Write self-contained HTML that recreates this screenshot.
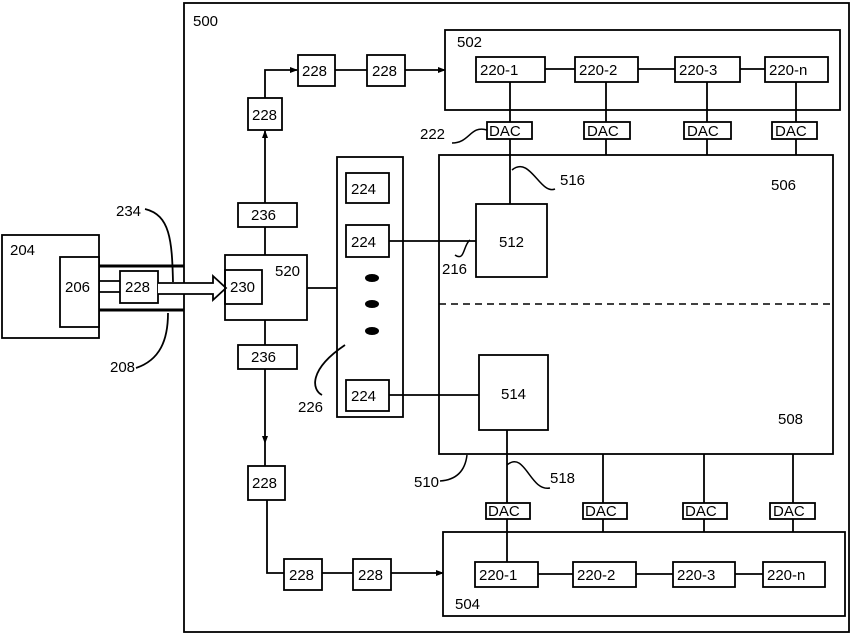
<!DOCTYPE html>
<html><head><meta charset="utf-8"><style>
html,body{margin:0;padding:0;background:#fff}
svg{display:block}
text{font-family:"Liberation Sans",Arial,sans-serif;font-size:15px;fill:#000}
</style></head><body>
<svg width="861" height="635" viewBox="0 0 861 635" xmlns="http://www.w3.org/2000/svg">
<defs><marker id="a" markerWidth="8" markerHeight="8" refX="7" refY="4" orient="auto" markerUnits="userSpaceOnUse"><path d="M0,1 L8,4 L0,7z" fill="#000"/></marker></defs>
<g fill="none" stroke="#000" stroke-width="1.8">
<rect x="184" y="3" width="665" height="629"/>
<rect x="2" y="235" width="97" height="103"/>
<rect x="60" y="257" width="39" height="70" fill="#fff"/>
<line x1="99" y1="266" x2="184" y2="266" stroke-width="3"/>
<line x1="99" y1="310" x2="184" y2="310" stroke-width="3"/>
<line x1="99" y1="281" x2="120" y2="281"/>
<line x1="99" y1="292" x2="120" y2="292"/>
<rect x="120" y="271" width="38" height="32"/>
<path d="M158,283 H213 V276 L226,288 L213,300 V294 H158" fill="#fff"/>
<path d="M145,209 C170,215 172,240 173,282"/>
<path d="M136,368 C160,360 168,340 168,313"/>
<rect x="225" y="255" width="82" height="65"/>
<rect x="225" y="270" width="37" height="34"/>
<line x1="307" y1="288" x2="337" y2="288"/>
<line x1="265" y1="255" x2="265" y2="227"/>
<rect x="238" y="203" width="59" height="24"/>
<line x1="265" y1="203" x2="265" y2="131" marker-end="url(#a)"/>
<rect x="248" y="98" width="34" height="32"/>
<path d="M265,98 V70 H297" marker-end="url(#a)"/>
<rect x="298" y="55" width="37" height="31"/>
<line x1="335" y1="70" x2="367" y2="70"/>
<rect x="367" y="55" width="38" height="31"/>
<line x1="405" y1="70" x2="445" y2="70" marker-end="url(#a)"/>
<line x1="265" y1="320" x2="265" y2="345"/>
<rect x="238" y="345" width="59" height="24"/>
<line x1="265" y1="369" x2="265" y2="443" marker-end="url(#a)"/>
<line x1="265" y1="443" x2="265" y2="466"/>
<rect x="248" y="466" width="37" height="34"/>
<path d="M267,500 V573 H284"/>
<rect x="284" y="559" width="38" height="31"/>
<line x1="322" y1="573" x2="353" y2="573"/>
<rect x="353" y="559" width="38" height="31"/>
<line x1="391" y1="573" x2="443" y2="573" marker-end="url(#a)"/>
<rect x="337" y="157" width="66" height="260"/>
<rect x="346" y="173" width="43" height="30"/>
<rect x="346" y="225" width="43" height="32"/>
<rect x="346" y="380" width="43" height="31"/>
<line x1="389" y1="241" x2="476" y2="241"/>
<line x1="389" y1="395" x2="479" y2="395"/>
<path d="M322,395 C312,390 308,370 345,345"/>
<path d="M455,255 C465,262 463,245 470,240" stroke-width="1.5"/>
<rect x="445" y="30" width="395" height="80"/>
<rect x="476" y="57" width="69" height="25"/>
<rect x="575" y="57" width="63" height="25"/>
<rect x="675" y="57" width="65" height="25"/>
<rect x="765" y="57" width="63" height="25"/>
<line x1="545" y1="69" x2="575" y2="69"/><line x1="638" y1="69" x2="675" y2="69"/><line x1="740" y1="69" x2="765" y2="69"/>
<line x1="510" y1="82" x2="510" y2="204"/>
<line x1="606" y1="82" x2="606" y2="155"/>
<line x1="707" y1="82" x2="707" y2="155"/>
<line x1="796" y1="82" x2="796" y2="155"/>
<path d="M452,143 C470,143 470,125 487,130" stroke-width="1.5"/>
<path d="M512,170 C530,155 540,195 555,189" stroke-width="1.5"/>
<rect x="439" y="155" width="394" height="299"/>
<line x1="439" y1="304" x2="833" y2="304" stroke-dasharray="7,5" stroke-width="1.5"/>
<rect x="476" y="204" width="71" height="73"/>
<rect x="479" y="355" width="69" height="75"/>
<line x1="507" y1="430" x2="507" y2="562"/>
<line x1="603" y1="454" x2="603" y2="504"/>
<line x1="704" y1="454" x2="704" y2="504"/>
<line x1="793" y1="454" x2="793" y2="504"/>
<line x1="603" y1="519" x2="603" y2="532"/><line x1="704" y1="519" x2="704" y2="532"/><line x1="793" y1="519" x2="793" y2="532"/>
<path d="M467,455 C465,472 455,480 440,481" stroke-width="1.5"/>
<path d="M507,465 C525,450 530,492 550,488" stroke-width="1.5"/>
<rect x="443" y="532" width="402" height="84"/>
<rect x="475" y="562" width="63" height="25"/>
<rect x="573" y="562" width="63" height="25"/>
<rect x="673" y="562" width="62" height="25"/>
<rect x="763" y="562" width="62" height="25"/>
<line x1="538" y1="574" x2="573" y2="574"/><line x1="636" y1="574" x2="673" y2="574"/><line x1="735" y1="574" x2="763" y2="574"/>
</g>
<g fill="#fff" stroke="#000" stroke-width="1.8">
<rect x="487" y="122" width="45" height="17"/><rect x="584" y="122" width="46" height="17"/>
<rect x="684" y="122" width="47" height="17"/><rect x="772" y="122" width="45" height="17"/>
<rect x="486" y="503" width="44" height="16"/><rect x="583" y="503" width="44" height="16"/>
<rect x="683" y="503" width="44" height="16"/><rect x="770" y="503" width="45" height="16"/>
</g>
<g fill="#000"><ellipse cx="372" cy="278" rx="7" ry="4"/><ellipse cx="372" cy="304" rx="7" ry="4"/><ellipse cx="372" cy="331" rx="7" ry="4"/></g>
<text x="193" y="26">500</text><text x="10" y="255">204</text><text x="65" y="292">206</text>
<text x="125" y="292">228</text><text x="230" y="292">230</text><text x="275" y="276">520</text>
<text x="116" y="216">234</text><text x="110" y="372">208</text>
<text x="251" y="220">236</text><text x="251" y="362">236</text>
<text x="252" y="120">228</text><text x="302" y="76">228</text><text x="372" y="76">228</text>
<text x="252" y="488">228</text><text x="289" y="580">228</text><text x="358" y="580">228</text>
<text x="351" y="194">224</text><text x="351" y="247">224</text><text x="351" y="401">224</text>
<text x="298" y="412">226</text><text x="442" y="274">216</text>
<text x="457" y="47">502</text><text x="455" y="609">504</text>
<text x="480" y="75">220-1</text><text x="579" y="75">220-2</text><text x="679" y="75">220-3</text><text x="769" y="75">220-n</text>
<text x="479" y="580">220-1</text><text x="577" y="580">220-2</text><text x="677" y="580">220-3</text><text x="767" y="580">220-n</text>
<text x="420" y="139">222</text><text x="560" y="185">516</text><text x="771" y="190">506</text>
<text x="499" y="247">512</text><text x="501" y="399">514</text><text x="778" y="424">508</text>
<text x="414" y="487">510</text><text x="550" y="483">518</text>
<g style="font-size:14px">
<text x="489" y="136">DAC</text><text x="587" y="136">DAC</text><text x="687" y="136">DAC</text><text x="775" y="136">DAC</text>
<text x="488" y="516">DAC</text><text x="585" y="516">DAC</text><text x="685" y="516">DAC</text><text x="773" y="516">DAC</text>
</g>
</svg>
</body></html>
